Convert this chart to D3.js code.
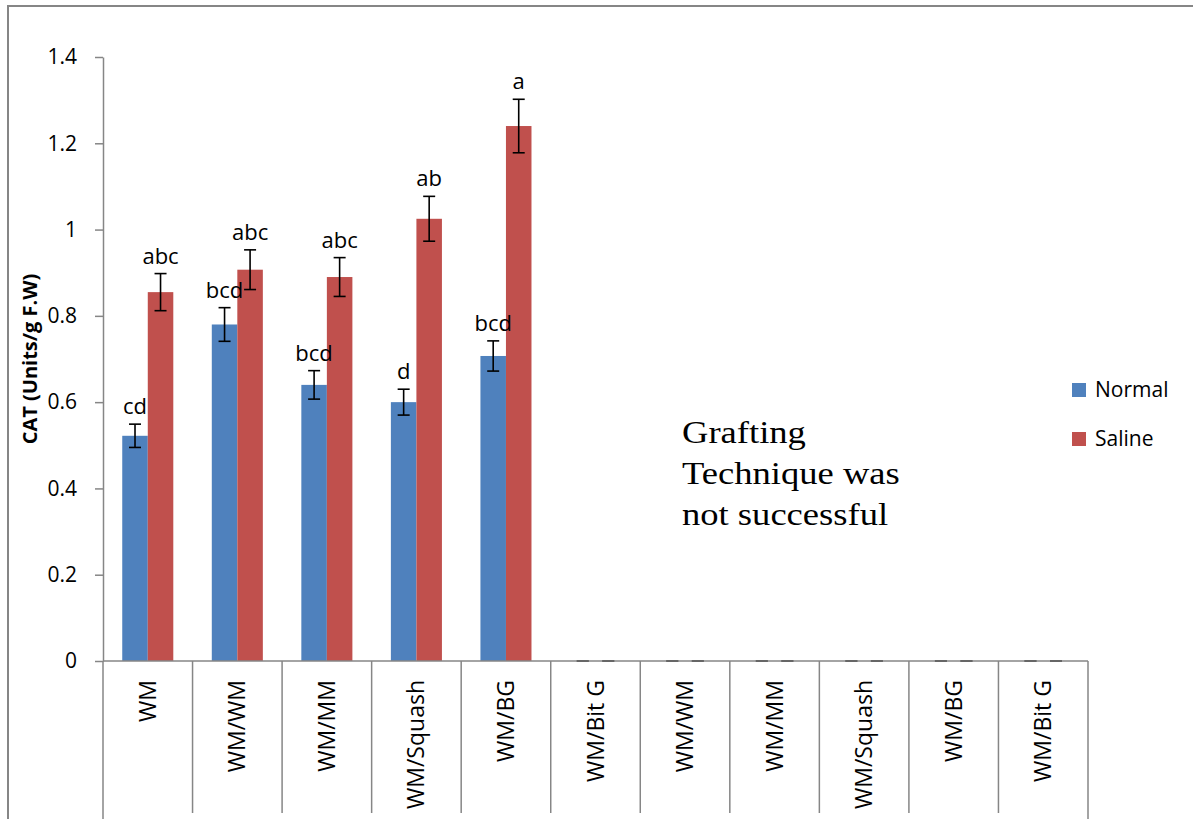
<!DOCTYPE html>
<html>
<head>
<meta charset="utf-8">
<script src="https://cdn.jsdelivr.net/npm/d3@7"></script>
<style>
  body { margin: 0; background: #fff; }
  svg { display: block; font-family: "Open Sans", sans-serif; }
</style>
</head>
<body>
<div id="chart"></div>
<script>
const categories = ['WM', 'WM/WM', 'WM/MM', 'WM/Squash', 'WM/BG', 'WM/Bit G',
  'WM/WM', 'WM/MM', 'WM/Squash', 'WM/BG', 'WM/Bit G'];
const seriesNames = ['Normal', 'Saline'];
const normal = [0.522, 0.78, 0.64, 0.60, 0.707, 0, 0, 0, 0, 0, 0];
const saline = [0.855, 0.907, 0.89, 1.025, 1.24, 0, 0, 0, 0, 0, 0];
const normalErr = [0.027, 0.039, 0.033, 0.03, 0.035, 0, 0, 0, 0, 0, 0];
const salineErr = [0.043, 0.046, 0.045, 0.052, 0.062, 0, 0, 0, 0, 0, 0];
const normalLetters = ['cd', 'bcd', 'bcd', 'd', 'bcd', '', '', '', '', '', ''];
const salineLetters = ['abc', 'abc', 'abc', 'ab', 'a', '', '', '', '', '', ''];
const yTicks = [0, 0.2, 0.4, 0.6, 0.8, 1, 1.2, 1.4];
const yTickLabels = ['0', '0.2', '0.4', '0.6', '0.8', '1', '1.2', '1.4'];
const colors = ['#4F81BD', '#C0504D'];

const width = 1193;
const height = 819;
const margin = { top: 57, left: 103, right: 105, bottom: 158 };
const axisColor = '#868686';

const rows = categories.map((c, i) => ({
  i: i,
  vals: [
    { s: 0, v: normal[i], e: normalErr[i], l: normalLetters[i] },
    { s: 1, v: saline[i], e: salineErr[i], l: salineLetters[i] }
  ]
}));

const svg = d3.select('#chart')
  .append('svg')
  .attr('width', width)
  .attr('height', height);

// outer frame
svg.append('path')
  .attr('d', `M8,${height} V6 H${width}`)
  .attr('fill', 'none')
  .attr('stroke', axisColor)
  .attr('stroke-width', 2);

const x = d3.scaleBand()
  .domain(d3.range(categories.length))
  .range([margin.left, width - margin.right])
  .padding(0);

const x1 = d3.scaleBand()
  .domain([0, 1])
  .range([0, x.bandwidth()])
  .paddingInner(0)
  .paddingOuter(0.754);

const y = d3.scaleLinear()
  .domain([0, 1.4])
  .range([height - margin.bottom, margin.top]);

// bars
const groups = svg.append('g')
  .selectAll('g')
  .data(rows)
  .join('g')
    .attr('transform', d => `translate(${x(d.i)},0)`);

groups.selectAll('rect')
  .data(d => d.vals)
  .join('rect')
    .attr('x', d => x1(d.s))
    .attr('y', d => y(d.v))
    .attr('width', x1.bandwidth())
    .attr('height', d => y(0) - y(d.v))
    .attr('fill', d => colors[d.s]);

// y axis
svg.append('g')
  .attr('transform', `translate(${margin.left},0)`)
  .call(d3.axisLeft(y).tickValues(yTicks)
    .tickFormat((d, i) => yTickLabels[i])
    .tickSize(8).tickSizeOuter(0).tickPadding(18))
  .call(g => g.select('.domain').attr('stroke', axisColor).attr('stroke-width', 1.5))
  .call(g => g.selectAll('.tick line').attr('stroke', axisColor).attr('stroke-width', 1.5))
  .call(g => g.selectAll('.tick text').attr('font-size', 21).attr('fill', '#000')
    .attr('font-family', '"Open Sans", sans-serif'));

// left axis continues down to the bottom
svg.append('line')
  .attr('x1', margin.left).attr('x2', margin.left)
  .attr('y1', y(0)).attr('y2', height)
  .attr('stroke', axisColor).attr('stroke-width', 1.5);

// x axis line and category separators
const xEnd = x.range()[1];
svg.append('line')
  .attr('x1', margin.left).attr('x2', xEnd)
  .attr('y1', y(0)).attr('y2', y(0))
  .attr('stroke', axisColor).attr('stroke-width', 1.5);

svg.append('g')
  .selectAll('line')
  .data(d3.range(1, categories.length + 1))
  .join('line')
    .attr('x1', i => i < categories.length ? x(i) : xEnd)
    .attr('x2', i => i < categories.length ? x(i) : xEnd)
    .attr('y1', y(0))
    .attr('y2', i => i < categories.length ? height - 6 : height)
    .attr('stroke', axisColor)
    .attr('stroke-width', 1.5);

// category labels
svg.append('g')
  .selectAll('text')
  .data(categories)
  .join('text')
    .attr('transform', (d, i) => `translate(${x(i) + x.bandwidth() / 2 + 8},${y(0) + 19}) rotate(-90)`)
    .attr('text-anchor', 'end')
    .attr('font-size', 23)
    .text(d => d);

// error bars
const err = groups.selectAll('g.err')
  .data(d => d.vals)
  .join('g')
    .attr('class', 'err')
    .attr('transform', d => `translate(${x1(d.s) + x1.bandwidth() / 2},0)`)
    .attr('stroke', '#000')
    .attr('stroke-width', 1.6);

err.append('line')
  .attr('y1', d => y(d.v + d.e))
  .attr('y2', d => y(d.v - d.e));
err.append('line')
  .attr('x1', -6).attr('x2', 6)
  .attr('y1', d => y(d.v + d.e)).attr('y2', d => y(d.v + d.e));
err.append('line')
  .attr('x1', -6).attr('x2', 6)
  .attr('y1', d => y(d.v - d.e)).attr('y2', d => y(d.v - d.e));

// significance letters
groups.selectAll('text')
  .data(d => d.vals.filter(v => v.l))
  .join('text')
    .attr('x', d => x1(d.s) + x1.bandwidth() / 2)
    .attr('y', d => y(d.v + d.e) - 10)
    .attr('text-anchor', 'middle')
    .attr('font-size', 22)
    .text(d => d.l);

// y title
svg.append('text')
  .attr('transform', `translate(37,${y(0.7)}) rotate(-90)`)
  .attr('text-anchor', 'middle')
  .attr('font-size', 20)
  .attr('font-weight', 'bold')
  .text('CAT (Units/g F.W)');

// legend
const legend = svg.append('g')
  .selectAll('g')
  .data(seriesNames)
  .join('g')
    .attr('transform', (d, i) => `translate(1072,${383 + i * 49})`);
legend.append('rect')
  .attr('width', 14).attr('height', 14)
  .attr('fill', (d, i) => colors[i]);
legend.append('text')
  .attr('x', 23).attr('y', 14)
  .attr('font-size', 21)
  .text(d => d);

// note
const note = svg.append('text')
  .attr('transform', 'translate(682,443) scale(1.18,1)')
  .attr('font-family', '"Liberation Serif", "Times New Roman", serif')
  .attr('font-size', 31);
['Grafting', 'Technique was', 'not successful'].forEach((t, i) => {
  note.append('tspan').attr('x', 0).attr('y', i * 41).text(t);
});
</script>
</body>
</html>
